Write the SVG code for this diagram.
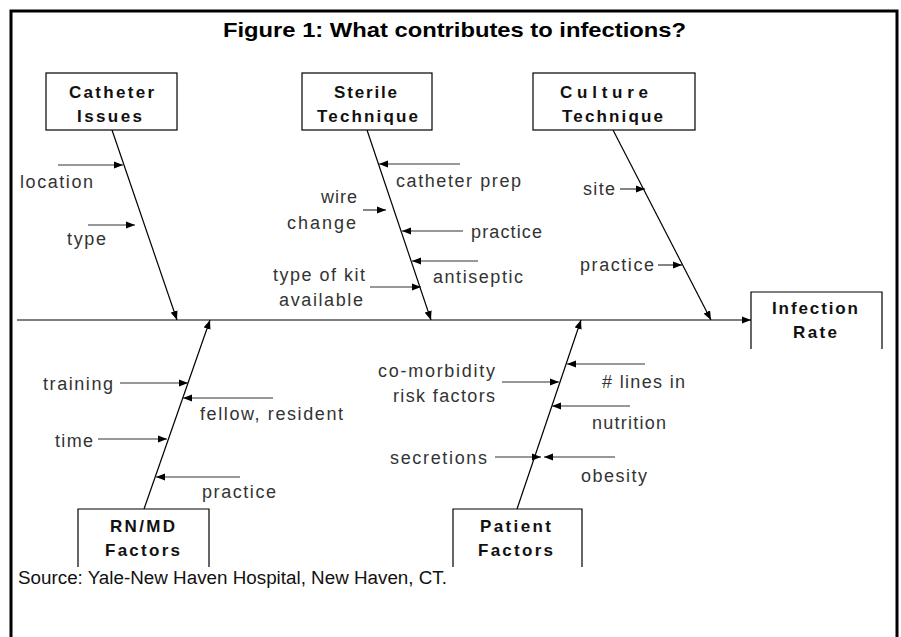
<svg xmlns="http://www.w3.org/2000/svg" width="901" height="637" viewBox="0 0 901 637">
<style>
.frame{fill:none;stroke:#000;stroke-width:3}
.box{fill:#fff;stroke:#000;stroke-width:1.2}
.bone{stroke:#000;stroke-width:1.2;fill:none}
.sub{stroke:#333;stroke-width:1.2;fill:none}
.hd{font-family:"Liberation Sans",Arial,sans-serif;font-weight:bold;font-size:17px;fill:#111}
.lb{font-family:"Liberation Sans",Arial,sans-serif;font-size:18px;fill:#333}
.title{font-family:"Liberation Sans",Arial,sans-serif;font-weight:bold;font-size:21px;fill:#000}
.src{font-family:"Liberation Sans",Arial,sans-serif;font-size:18px;fill:#111}
</style>
<defs>
<marker id="ah" viewBox="0 0 10 8" refX="10" refY="4" markerWidth="9" markerHeight="7.5" markerUnits="userSpaceOnUse" orient="auto">
<path d="M0,0 L10,4 L0,8 z" fill="#000"/>
</marker>
</defs>
<rect width="901" height="637" fill="#fff"/>
<rect class="frame" x="11" y="11" width="886" height="700"/>
<text class="title" x="223" y="37" textLength="463" lengthAdjust="spacingAndGlyphs">Figure 1: What contributes to infections?</text>

<g id="connectors">
<line class="bone" x1="17" y1="320" x2="751" y2="320" marker-end="url(#ah)"/>
<line class="bone" x1="112" y1="130" x2="177" y2="320" marker-end="url(#ah)"/>
<line class="bone" x1="367" y1="130" x2="431" y2="320" marker-end="url(#ah)"/>
<line class="bone" x1="613" y1="130" x2="711" y2="320" marker-end="url(#ah)"/>
<line class="bone" x1="144" y1="509" x2="210" y2="320" marker-end="url(#ah)"/>
<line class="bone" x1="517" y1="509" x2="581" y2="320" marker-end="url(#ah)"/>
<line class="sub" x1="58" y1="165" x2="123" y2="165" marker-end="url(#ah)"/>
<line class="sub" x1="88" y1="225" x2="135" y2="225" marker-end="url(#ah)"/>
<line class="sub" x1="460" y1="164" x2="379" y2="164" marker-end="url(#ah)"/>
<line class="sub" x1="363" y1="210" x2="386" y2="210" marker-end="url(#ah)"/>
<line class="sub" x1="463" y1="231" x2="402" y2="231" marker-end="url(#ah)"/>
<line class="sub" x1="478" y1="261" x2="412" y2="261" marker-end="url(#ah)"/>
<line class="sub" x1="370" y1="287" x2="421" y2="287" marker-end="url(#ah)"/>
<line class="sub" x1="620" y1="189" x2="645" y2="189" marker-end="url(#ah)"/>
<line class="sub" x1="658" y1="265" x2="682" y2="265" marker-end="url(#ah)"/>
<line class="sub" x1="120" y1="383" x2="188" y2="383" marker-end="url(#ah)"/>
<line class="sub" x1="273" y1="398" x2="183" y2="398" marker-end="url(#ah)"/>
<line class="sub" x1="98" y1="439" x2="167" y2="439" marker-end="url(#ah)"/>
<line class="sub" x1="240" y1="477" x2="156" y2="477" marker-end="url(#ah)"/>
<line class="sub" x1="645" y1="364" x2="567" y2="364" marker-end="url(#ah)"/>
<line class="sub" x1="502" y1="382" x2="559" y2="382" marker-end="url(#ah)"/>
<line class="sub" x1="630" y1="406" x2="552" y2="406" marker-end="url(#ah)"/>
<line class="sub" x1="495" y1="457" x2="541" y2="457" marker-end="url(#ah)"/>
<line class="sub" x1="615" y1="457" x2="544" y2="457" marker-end="url(#ah)"/>
</g>

<g id="labels">
<text class="lb" x="20" y="188" textLength="73">location</text>
<text class="lb" x="67" y="245" textLength="39">type</text>
<text class="lb" x="321" y="203" textLength="36">wire</text>
<text class="lb" x="287" y="229" textLength="69">change</text>
<text class="lb" x="273" y="281" textLength="92">type of kit</text>
<text class="lb" x="279" y="306" textLength="84">available</text>
<text class="lb" x="396" y="187" textLength="125">catheter prep</text>
<text class="lb" x="471" y="238" textLength="71">practice</text>
<text class="lb" x="433" y="283" textLength="90">antiseptic</text>
<text class="lb" x="583" y="195" textLength="32">site</text>
<text class="lb" x="580" y="271" textLength="74">practice</text>
<text class="lb" x="43" y="390" textLength="70">training</text>
<text class="lb" x="200" y="420" textLength="143">fellow, resident</text>
<text class="lb" x="55" y="447" textLength="38">time</text>
<text class="lb" x="202" y="498" textLength="74">practice</text>
<text class="lb" x="378" y="377" textLength="117">co-morbidity</text>
<text class="lb" x="393" y="402" textLength="102">risk factors</text>
<text class="lb" x="390" y="464" textLength="97">secretions</text>
<text class="lb" x="602" y="388" textLength="83"># lines in</text>
<text class="lb" x="592" y="429" textLength="74">nutrition</text>
<text class="lb" x="581" y="482" textLength="66">obesity</text>
</g>

<g id="catheter-issues">
<rect class="box" x="46" y="73" width="131" height="57"/>
<text class="hd" x="69" y="98" textLength="85">Catheter</text>
<text class="hd" x="77" y="122" textLength="65">Issues</text>
</g>
<g id="sterile-technique">
<rect class="box" x="302" y="73" width="130" height="57"/>
<text class="hd" x="334" y="98" textLength="63">Sterile</text>
<text class="hd" x="317" y="122" textLength="101">Technique</text>
</g>
<g id="culture-technique">
<rect class="box" x="533" y="73" width="162" height="57"/>
<text class="hd" x="560" y="98" textLength="88">Culture</text>
<text class="hd" x="562" y="122" textLength="101">Technique</text>
</g>
<g id="infection-rate">
<path class="box" d="M751,349 V292 H882 V349"/>
<text class="hd" x="772" y="314" textLength="86">Infection</text>
<text class="hd" x="793" y="338" textLength="44">Rate</text>
</g>
<g id="rnmd-factors">
<path class="box" d="M78,567 V509 H209 V567"/>
<text class="hd" x="110" y="532" textLength="65">RN/MD</text>
<text class="hd" x="105" y="556" textLength="75">Factors</text>
</g>
<g id="patient-factors">
<path class="box" d="M453,567 V509 H582 V567"/>
<text class="hd" x="480" y="532" textLength="71">Patient</text>
<text class="hd" x="478" y="556" textLength="75">Factors</text>
</g>

<text class="src" x="18" y="584" textLength="429" lengthAdjust="spacingAndGlyphs">Source: Yale-New Haven Hospital, New Haven, CT.</text>
</svg>
